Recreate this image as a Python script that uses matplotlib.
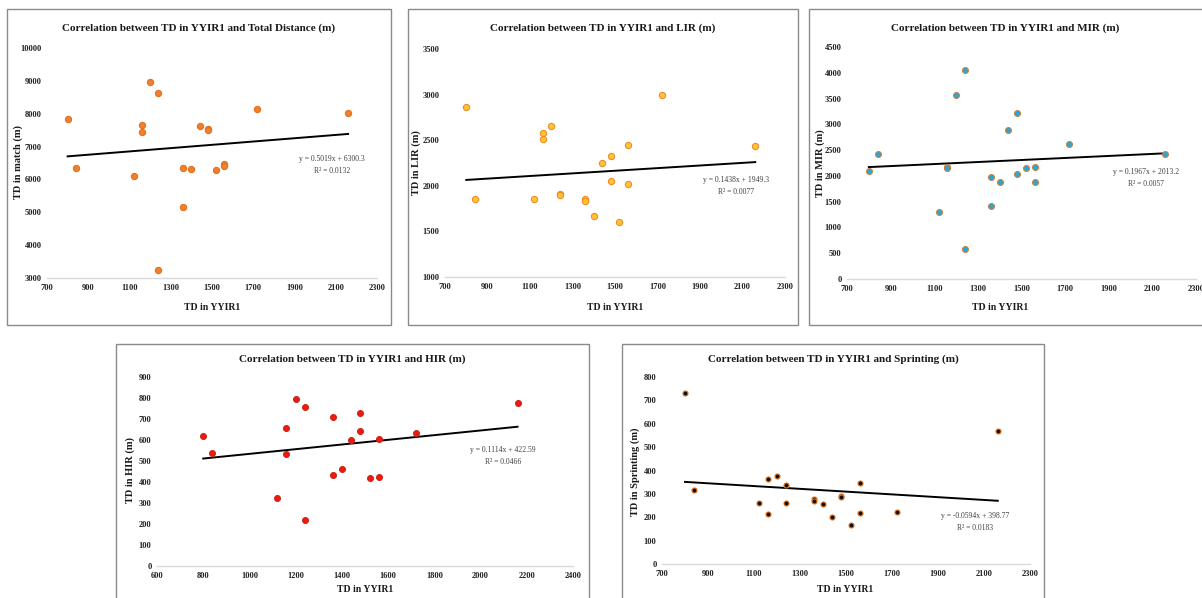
import numpy as np
import matplotlib
matplotlib.use("Agg")
import matplotlib.pyplot as plt
from matplotlib.patches import Rectangle

# TD in YYIR1 (same players in every panel)
yyir1 = [800, 840, 1120, 1160, 1160, 1200, 1240, 1240, 1360, 1360,
         1400, 1440, 1480, 1480, 1520, 1560, 1560, 1720, 2160]

total_dist = [7850, 6350, 6100, 7670, 7450, 8970, 8640, 3230, 6350, 5170,
              6310, 7640, 7520, 7490, 6280, 6480, 6400, 8130, 8030]
lir = [2860, 1860, 1850, 2580, 2510, 2660, 1905, 1895, 1850, 1835,
       1670, 2255, 2330, 2050, 1600, 2450, 2025, 3000, 2440]
mir = [2100, 2420, 1300, 2170, 2150, 3570, 4060, 590, 1980, 1410,
       1880, 2890, 3220, 2040, 2150, 2170, 1890, 2620, 2430]
hir = [620, 538, 324, 657, 533, 794, 759, 219, 710, 435,
       462, 598, 729, 641, 421, 605, 425, 635, 775]
sprint = [733, 317, 263, 364, 214, 376, 337, 259, 278, 270,
          256, 200, 293, 287, 166, 347, 220, 224, 571]

# trendline coefficients as printed on the charts
slopes = [0.5019, 0.1438, 0.1967, 0.1114, -0.0594]
intercepts = [6300.3, 1949.3, 2013.2, 422.59, 398.77]
eq_text = ["y = 0.5019x + 6300.3", "y = 0.1438x + 1949.3", "y = 0.1967x + 2013.2",
           "y = 0.1114x + 422.59", "y = -0.0594x + 398.77"]
r2_text = ["R² = 0.0132", "R² = 0.0077", "R² = 0.0057", "R² = 0.0466", "R² = 0.0183"]

titles = ["Correlation between TD in YYIR1 and Total Distance (m)",
          "Correlation between TD in YYIR1 and LIR (m)",
          "Correlation between TD in YYIR1 and MIR (m)",
          "Correlation between TD in YYIR1 and HIR (m)",
          "Correlation between TD in YYIR1 and Sprinting (m)"]
ylabels = ["TD in match (m)", "TD in LIR (m)", "TD in MIR (m)",
           "TD in HIR (m)", "TD in Sprinting (m)"]
series = [total_dist, lir, mir, hir, sprint]

W, H = 1202, 598
plt.rcParams['font.family'] = ['Liberation Serif', 'DejaVu Serif']

fig = plt.figure(figsize=(W / 100, H / 100), dpi=100)


def box(x0, y0, x1, y1):
    return [x0 / W, 1 - y1 / H, (x1 - x0) / W, (y1 - y0) / H]


def ftext(x, y, s, **kw):
    fig.text(x / W, 1 - y / H, s, ha='center', va='center', **kw)


# panel frames (pixel coords)
frames = [(7, 9, 391, 325), (408, 9, 798, 325), (809, 9, 1215, 325),
          (116, 344, 589, 610), (622, 344, 1044, 610)]
# plot areas
areas = [(47, 48, 377, 278), (445, 49, 785, 277), (847, 47, 1196, 279),
         (157, 377, 573, 566), (662, 377, 1030, 564)]
xlims = [(700, 2300), (700, 2300), (700, 2300), (600, 2400), (700, 2300)]
xsteps = [200, 200, 200, 200, 200]
ylims = [(3000, 10000), (1000, 3500), (0, 4500), (0, 900), (0, 800)]
ysteps = [1000, 500, 500, 100, 100]
title_pos = [(199, 28), (603, 28), (1005, 28), (352, 359), (833, 359)]
xlab_pos = [(212, 307), (615, 307), (1000, 307), (365, 589), (845, 589)]
ylab_pos = [(18, 162), (416, 163), (820, 163), (130, 470), (635, 472)]
eq_pos = [(332, 159), (736, 180), (1146, 172), (503, 450), (975, 516)]

faces = ['#F07F2E', '#FFC634', '#27A7DF', '#F5160E', '#111111']
edges = ['#E2701F', '#F08A24', '#C9803E', '#C8281E', '#E3741E']
sizes = [20, 20, 18, 18, 13]

for i in range(5):
    x0, y0, x1, y1 = frames[i]
    fig.patches.append(Rectangle((x0 / W, 1 - y1 / H), (x1 - x0) / W, (y1 - y0) / H,
                                 transform=fig.transFigure, fill=False,
                                 edgecolor='#8a8a8a', lw=1.0))

    ax = fig.add_axes(box(*areas[i]))
    ax.scatter(yyir1, series[i], s=sizes[i], c=faces[i], edgecolors=edges[i],
               linewidths=0.8, zorder=3)
    xs = np.array([min(yyir1), max(yyir1)])
    ax.plot(xs, slopes[i] * xs + intercepts[i], color='black', lw=1.4, zorder=2)

    ax.set_xlim(*xlims[i])
    ax.set_ylim(*ylims[i])
    ax.set_xticks(np.arange(xlims[i][0], xlims[i][1] + 1, xsteps[i]))
    ax.set_yticks(np.arange(ylims[i][0], ylims[i][1] + 1, ysteps[i]))
    for s in ['top', 'right', 'left']:
        ax.spines[s].set_visible(False)
    ax.spines['bottom'].set_color('#d9d9d9')
    ax.spines['bottom'].set_linewidth(1.0)
    ax.tick_params(length=0, labelsize=6, pad=4, colors='#222222')
    for lab in ax.get_xticklabels() + ax.get_yticklabels():
        lab.set_fontweight('bold')
    ax.patch.set_alpha(0)

    ftext(*title_pos[i], titles[i], fontsize=8, fontweight='bold', color='#1a1a1a')
    ftext(*xlab_pos[i], "TD in YYIR1", fontsize=7, fontweight='bold', color='#1a1a1a')
    ftext(*ylab_pos[i], ylabels[i], fontsize=7.5, fontweight='bold', color='#1a1a1a',
          rotation=90)
    ex, ey = eq_pos[i]
    ftext(ex, ey, eq_text[i], fontsize=5.5, color='#404040')
    ftext(ex, ey + 12, r2_text[i], fontsize=5.5, color='#404040')

fig.savefig("out.png", dpi=100, facecolor='white')
